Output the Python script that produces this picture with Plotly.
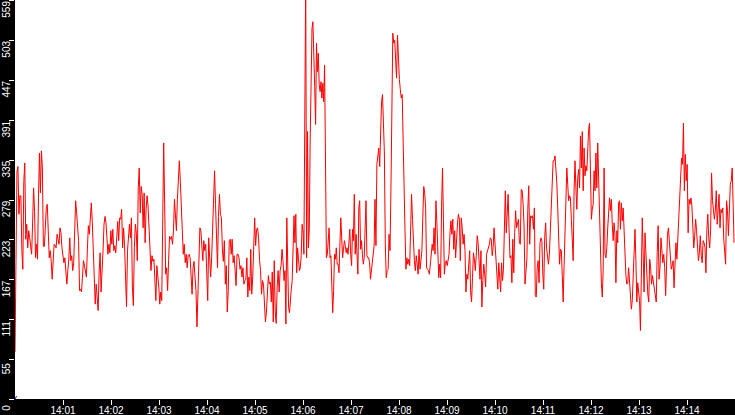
import numpy as np
import pandas as pd
import plotly.graph_objects as go

# readings, one list per 112.5 s stretch of the window (14:00:00 - 14:15:00)
seg1 = [66, 193, 319, 326, 259, 285, 285, 208, 182, 305, 331, 224, 245, 212, 236, 226, 217, 203, 247, 296,
        263, 198, 217, 196, 282, 345, 289, 348, 324, 214, 214, 245, 268, 273, 236, 198, 208, 194, 168, 194,
        217, 215, 212, 231, 224, 217, 240, 233, 212, 198, 191, 198, 173, 161, 180, 196, 226, 194, 201, 180,
        191, 228, 278, 261, 233, 222, 152, 154, 150, 178, 194, 187, 178, 171, 210, 243, 231, 247, 275, 249,
        203, 164, 133, 161, 145, 124, 178, 205, 150, 193, 208, 245]
seg2 = [256, 247, 222, 203, 217, 205, 236, 217, 238, 208, 215, 205, 226, 249, 222, 254, 252, 266, 212, 240,
        215, 161, 129, 208, 224, 245, 226, 254, 157, 131, 212, 245, 233, 194, 296, 324, 261, 298, 287, 240,
        289, 219, 266, 285, 271, 245, 215, 180, 201, 193, 196, 171, 138, 187, 175, 157, 133, 150, 138, 282,
        359, 273, 175, 184, 152, 194, 228, 224, 228, 217, 236, 280, 259, 236, 280, 317, 334, 305, 275, 249,
        203, 217, 191, 203, 184, 201, 203, 198, 171, 147, 184, 193]
seg3 = [171, 152, 101, 157, 222, 240, 236, 208, 194, 222, 208, 217, 173, 138, 226, 184, 171, 198, 243, 292,
        320, 273, 205, 184, 256, 287, 259, 254, 210, 193, 222, 161, 187, 122, 152, 222, 224, 203, 224, 191,
        201, 182, 159, 203, 203, 198, 182, 187, 171, 184, 161, 166, 168, 198, 143, 171, 152, 210, 147, 171,
        226, 254, 215, 238, 240, 226, 194, 180, 147, 166, 161, 126, 108, 122, 152, 173, 161, 164, 136, 178,
        108, 194, 122, 106, 157, 180, 150, 180, 187, 210, 193, 166]
seg4 = [180, 105, 254, 194, 128, 121, 145, 154, 166, 212, 257, 219, 259, 177, 212, 196, 180, 184, 201, 245,
        236, 203, 380, 590, 198, 375, 212, 238, 366, 494, 520, 529, 492, 438, 385, 499, 459, 485, 441, 431,
        445, 422, 443, 417, 468, 331, 198, 203, 222, 240, 198, 201, 161, 121, 152, 203, 196, 212, 189, 189,
        177, 236, 254, 226, 198, 210, 222, 215, 205, 212, 203, 219, 238, 203, 187, 238, 222, 287, 203, 231,
        201, 175, 268, 278, 210, 222, 203, 189, 198, 243, 278, 201, 198, 198, 191, 168, 180, 184, 196, 215]
seg5 = [280, 215, 329, 340, 352, 326, 375, 417, 427, 378, 345, 217, 170, 180, 182, 231, 208, 294, 434, 513,
        499, 503, 475, 450, 510, 473, 448, 434, 422, 427, 345, 261, 236, 182, 198, 189, 196, 187, 236, 287,
        252, 219, 194, 180, 201, 189, 175, 210, 182, 194, 208, 254, 298, 289, 268, 184, 182, 180, 175, 189,
        201, 217, 208, 240, 203, 278, 247, 184, 170, 189, 170, 268, 324, 250, 175, 191, 194, 187, 198, 203,
        233, 250, 231, 252, 210, 236, 198, 226, 247, 259, 252, 194, 254, 240, 217, 231]
seg6 = [208, 150, 175, 168, 189, 208, 150, 136, 170, 205, 196, 180, 201, 229, 219, 191, 168, 208, 129, 166,
        189, 175, 157, 203, 208, 210, 217, 226, 224, 201, 212, 240, 219, 198, 161, 154, 191, 170, 150, 191,
        166, 182, 229, 292, 233, 261, 287, 238, 198, 201, 163, 224, 177, 233, 264, 240, 250, 252, 219, 217,
        294, 292, 273, 243, 161, 180, 196, 266, 299, 217, 257, 254, 257, 238, 268, 145, 143, 184, 194, 163,
        219, 226, 221, 175, 154, 226, 247, 212, 203, 189, 203, 240, 268, 301, 334, 334]
seg7 = [341, 322, 303, 268, 212, 189, 210, 208, 173, 136, 187, 226, 282, 324, 301, 278, 285, 282, 252, 219,
        194, 292, 334, 296, 266, 310, 322, 296, 369, 324, 375, 292, 352, 313, 327, 320, 366, 378, 387, 282,
        252, 266, 273, 320, 292, 345, 296, 359, 310, 236, 194, 163, 143, 182, 324, 203, 198, 212, 240, 268,
        282, 264, 280, 245, 222, 247, 229, 163, 236, 219, 275, 278, 238, 275, 250, 268, 238, 196, 173, 161,
        163, 184, 163, 152, 126, 138, 175, 215, 238, 194, 136, 163, 150, 138, 96, 175, 254, 203, 150]
seg8 = [233, 203, 171, 147, 136, 196, 184, 161, 173, 163, 150, 143, 136, 205, 243, 168, 184, 226, 203, 191,
        203, 184, 145, 212, 231, 240, 217, 187, 182, 187, 194, 156, 203, 219, 196, 229, 254, 278, 313, 338,
        329, 387, 292, 343, 306, 329, 233, 280, 273, 282, 271, 231, 212, 229, 252, 236, 215, 194, 205, 229,
        201, 191, 222, 219, 212, 177, 238, 259, 226, 212, 238, 317, 278, 264, 252, 264, 292, 245, 268, 287,
        240, 266, 261, 268, 224, 198, 189, 278, 264, 229, 282, 301, 306, 324, 273, 219]

second_series = [0, 4]
ytick_vals = [0, 55, 111, 167, 223, 279, 335, 391, 447, 503, 559]
xtick_labels = ["14:01", "14:02", "14:03", "14:04", "14:05", "14:06", "14:07",
                "14:08", "14:09", "14:10", "14:11", "14:12", "14:13", "14:14"]

start = pd.Timestamp("2024-01-01 14:00:00")
seg_len = 112.5  # seconds

times = []
values = []
for k, seg in enumerate([seg1, seg2, seg3, seg4, seg5, seg6, seg7, seg8]):
    secs = k * seg_len + np.linspace(0, seg_len, len(seg), endpoint=False)
    times += list(start + pd.to_timedelta(secs, unit="s"))
    values += seg

xtick_vals = [pd.Timestamp("2024-01-01 " + t) for t in xtick_labels]

fig = go.Figure()
fig.add_trace(go.Scatter(x=times, y=values, mode="lines",
                         line=dict(color="red", width=1)))
fig.add_trace(go.Scatter(x=[start, start + pd.Timedelta(seconds=2)], y=second_series,
                         mode="lines", line=dict(color="blue", width=1)))

tick_font = dict(family="Liberation Sans", size=10, color="white")
fig.update_layout(width=735, height=415, showlegend=False,
                  paper_bgcolor="black", plot_bgcolor="white",
                  margin=dict(l=15, r=0, t=0, b=16, pad=0),
                  xaxis=dict(range=[start, start + pd.Timedelta(minutes=15)],
                             tickvals=xtick_vals, ticktext=xtick_labels,
                             ticks="outside", ticklen=5, tickcolor="white",
                             tickfont=tick_font, ticklabelstandoff=-3,
                             automargin=False,
                             showgrid=False, zeroline=False, showline=False),
                  yaxis=dict(range=[0, 559.5], tickvals=ytick_vals,
                             ticktext=[str(v) for v in ytick_vals], tickangle=-90,
                             ticks="outside", ticklen=5, tickcolor="white",
                             ticklabelposition="outside bottom", ticklabelshift=3,
                             ticklabeloverflow="allow", automargin=False,
                             tickfont=tick_font, showgrid=False, zeroline=False,
                             showline=False))

# page margin off so the figure sits at the window's corner
fig.write_html("out.html", config={"displayModeBar": False},
               post_script="document.body.style.margin='0';")
